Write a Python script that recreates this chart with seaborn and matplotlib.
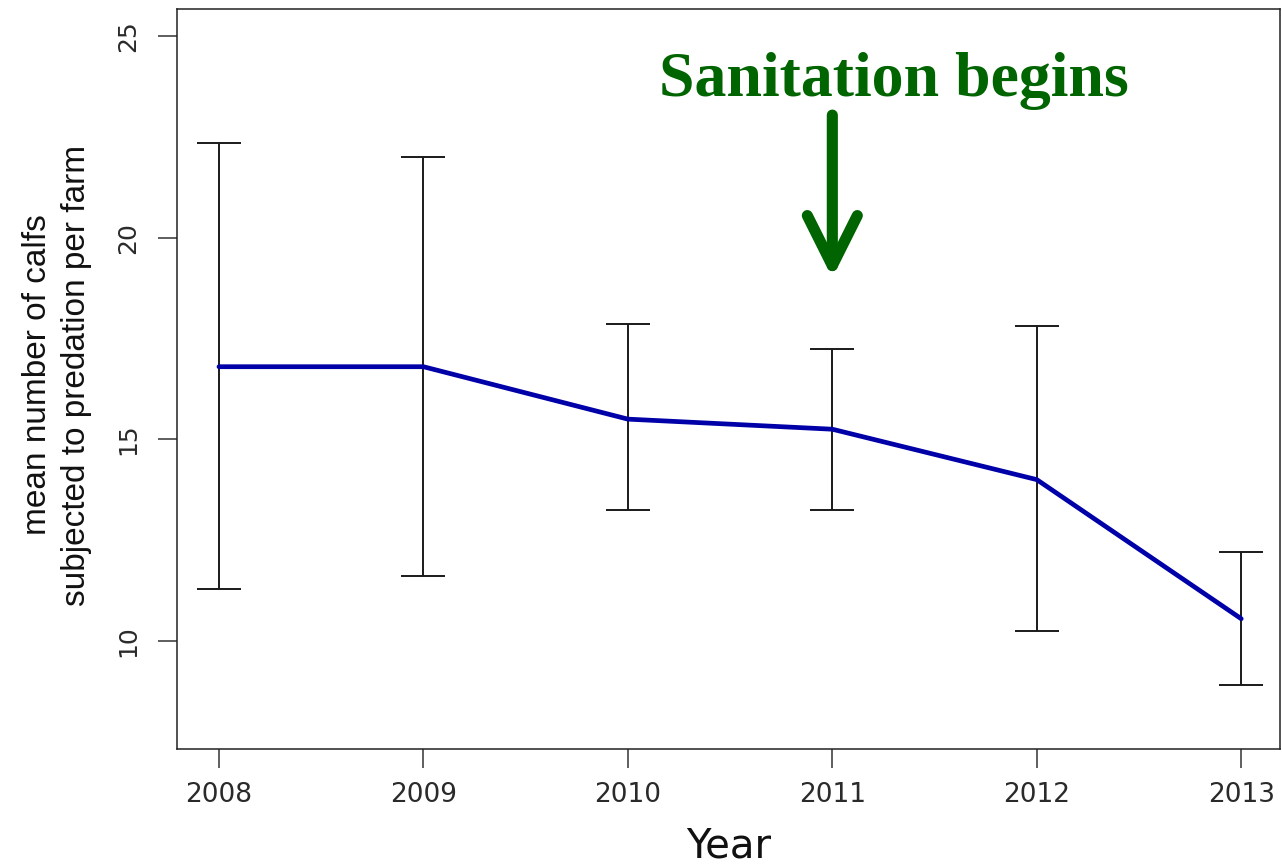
import matplotlib
matplotlib.use("Agg")
import matplotlib.pyplot as plt
import numpy as np
import pandas as pd
import seaborn as sns

# values
years = [2008, 2009, 2010, 2011, 2012, 2013]
mean_calves = [16.8, 16.8, 15.5, 15.25, 14.0, 10.55]
upper_ci = [22.35, 22.0, 17.85, 17.25, 17.8, 12.2]
lower_ci = [11.3, 11.6, 13.25, 13.25, 10.25, 8.9]
y_ticks = [10, 15, 20, 25]

df = pd.DataFrame({"Year": years, "Mean": mean_calves,
                   "Upper": upper_ci, "Lower": lower_ci})

sns.set_style("ticks")
plt.rcParams["font.family"] = ["DejaVu Sans"]

fig = plt.figure(figsize=(12.82, 8.67), dpi=100)
ax = fig.add_axes([0.1381, 0.1361, 0.8604, 0.8535])

# error bars first so the mean line sits on top
ax.errorbar(
    df["Year"], df["Mean"],
    yerr=[df["Mean"] - df["Lower"], df["Upper"] - df["Mean"]],
    fmt="none", ecolor="#1a1a1a", elinewidth=1.4, capsize=15.5,
    capthick=1.4, zorder=2,
)
sns.lineplot(data=df, x="Year", y="Mean", color="#0000a8",
             linewidth=3.4, ax=ax, zorder=3)

ax.set_xlim(2007.795, 2013.19)
ax.set_ylim(7.32, 25.67)
ax.set_xticks(years)
ax.set_xticklabels([str(y) for y in years])
ax.set_yticks(y_ticks)
ax.set_yticklabels([str(t) for t in y_ticks], rotation=90, va="center")
ax.set_xlabel("")
ax.set_ylabel("")

ax.tick_params(axis="x", length=13.5, width=1.1, color="#333333",
               labelsize=19, labelcolor="#2a2a2a", pad=10)
ax.tick_params(axis="y", length=13.5, width=1.1, color="#333333",
               labelsize=18, labelcolor="#2a2a2a", pad=13)
for side in ["left", "right", "top", "bottom"]:
    ax.spines[side].set_visible(True)
    ax.spines[side].set_linewidth(1.1)
    ax.spines[side].set_color("#222222")

# axis titles
fig.text(729 / 1282, 1 - 857 / 867, "Year", ha="center", va="baseline",
         fontsize=29, color="#111111")
fig.text(57 / 1282, 1 - 375 / 867,
         "mean number of calfs\nsubjected to predation per farm",
         rotation=90, ha="center", va="center", multialignment="center",
         fontsize=24, color="#111111", linespacing=1.3,
         family=["Liberation Sans", "DejaVu Sans"])

# annotation
ax.text(2011.30, 23.52, "Sanitation begins", ha="center", va="baseline",
        fontsize=46, fontweight="bold", color="#006400",
        family=["Liberation Serif", "DejaVu Serif"])
ax.annotate(
    "", xy=(2011, 19.0), xytext=(2011, 23.04),
    arrowprops=dict(arrowstyle="->,head_length=36,head_width=18",
                    mutation_scale=1, color="#006400", lw=8,
                    shrinkA=0, shrinkB=0, capstyle="round",
                    joinstyle="round"),
)

fig.savefig("out.png", dpi=100)
